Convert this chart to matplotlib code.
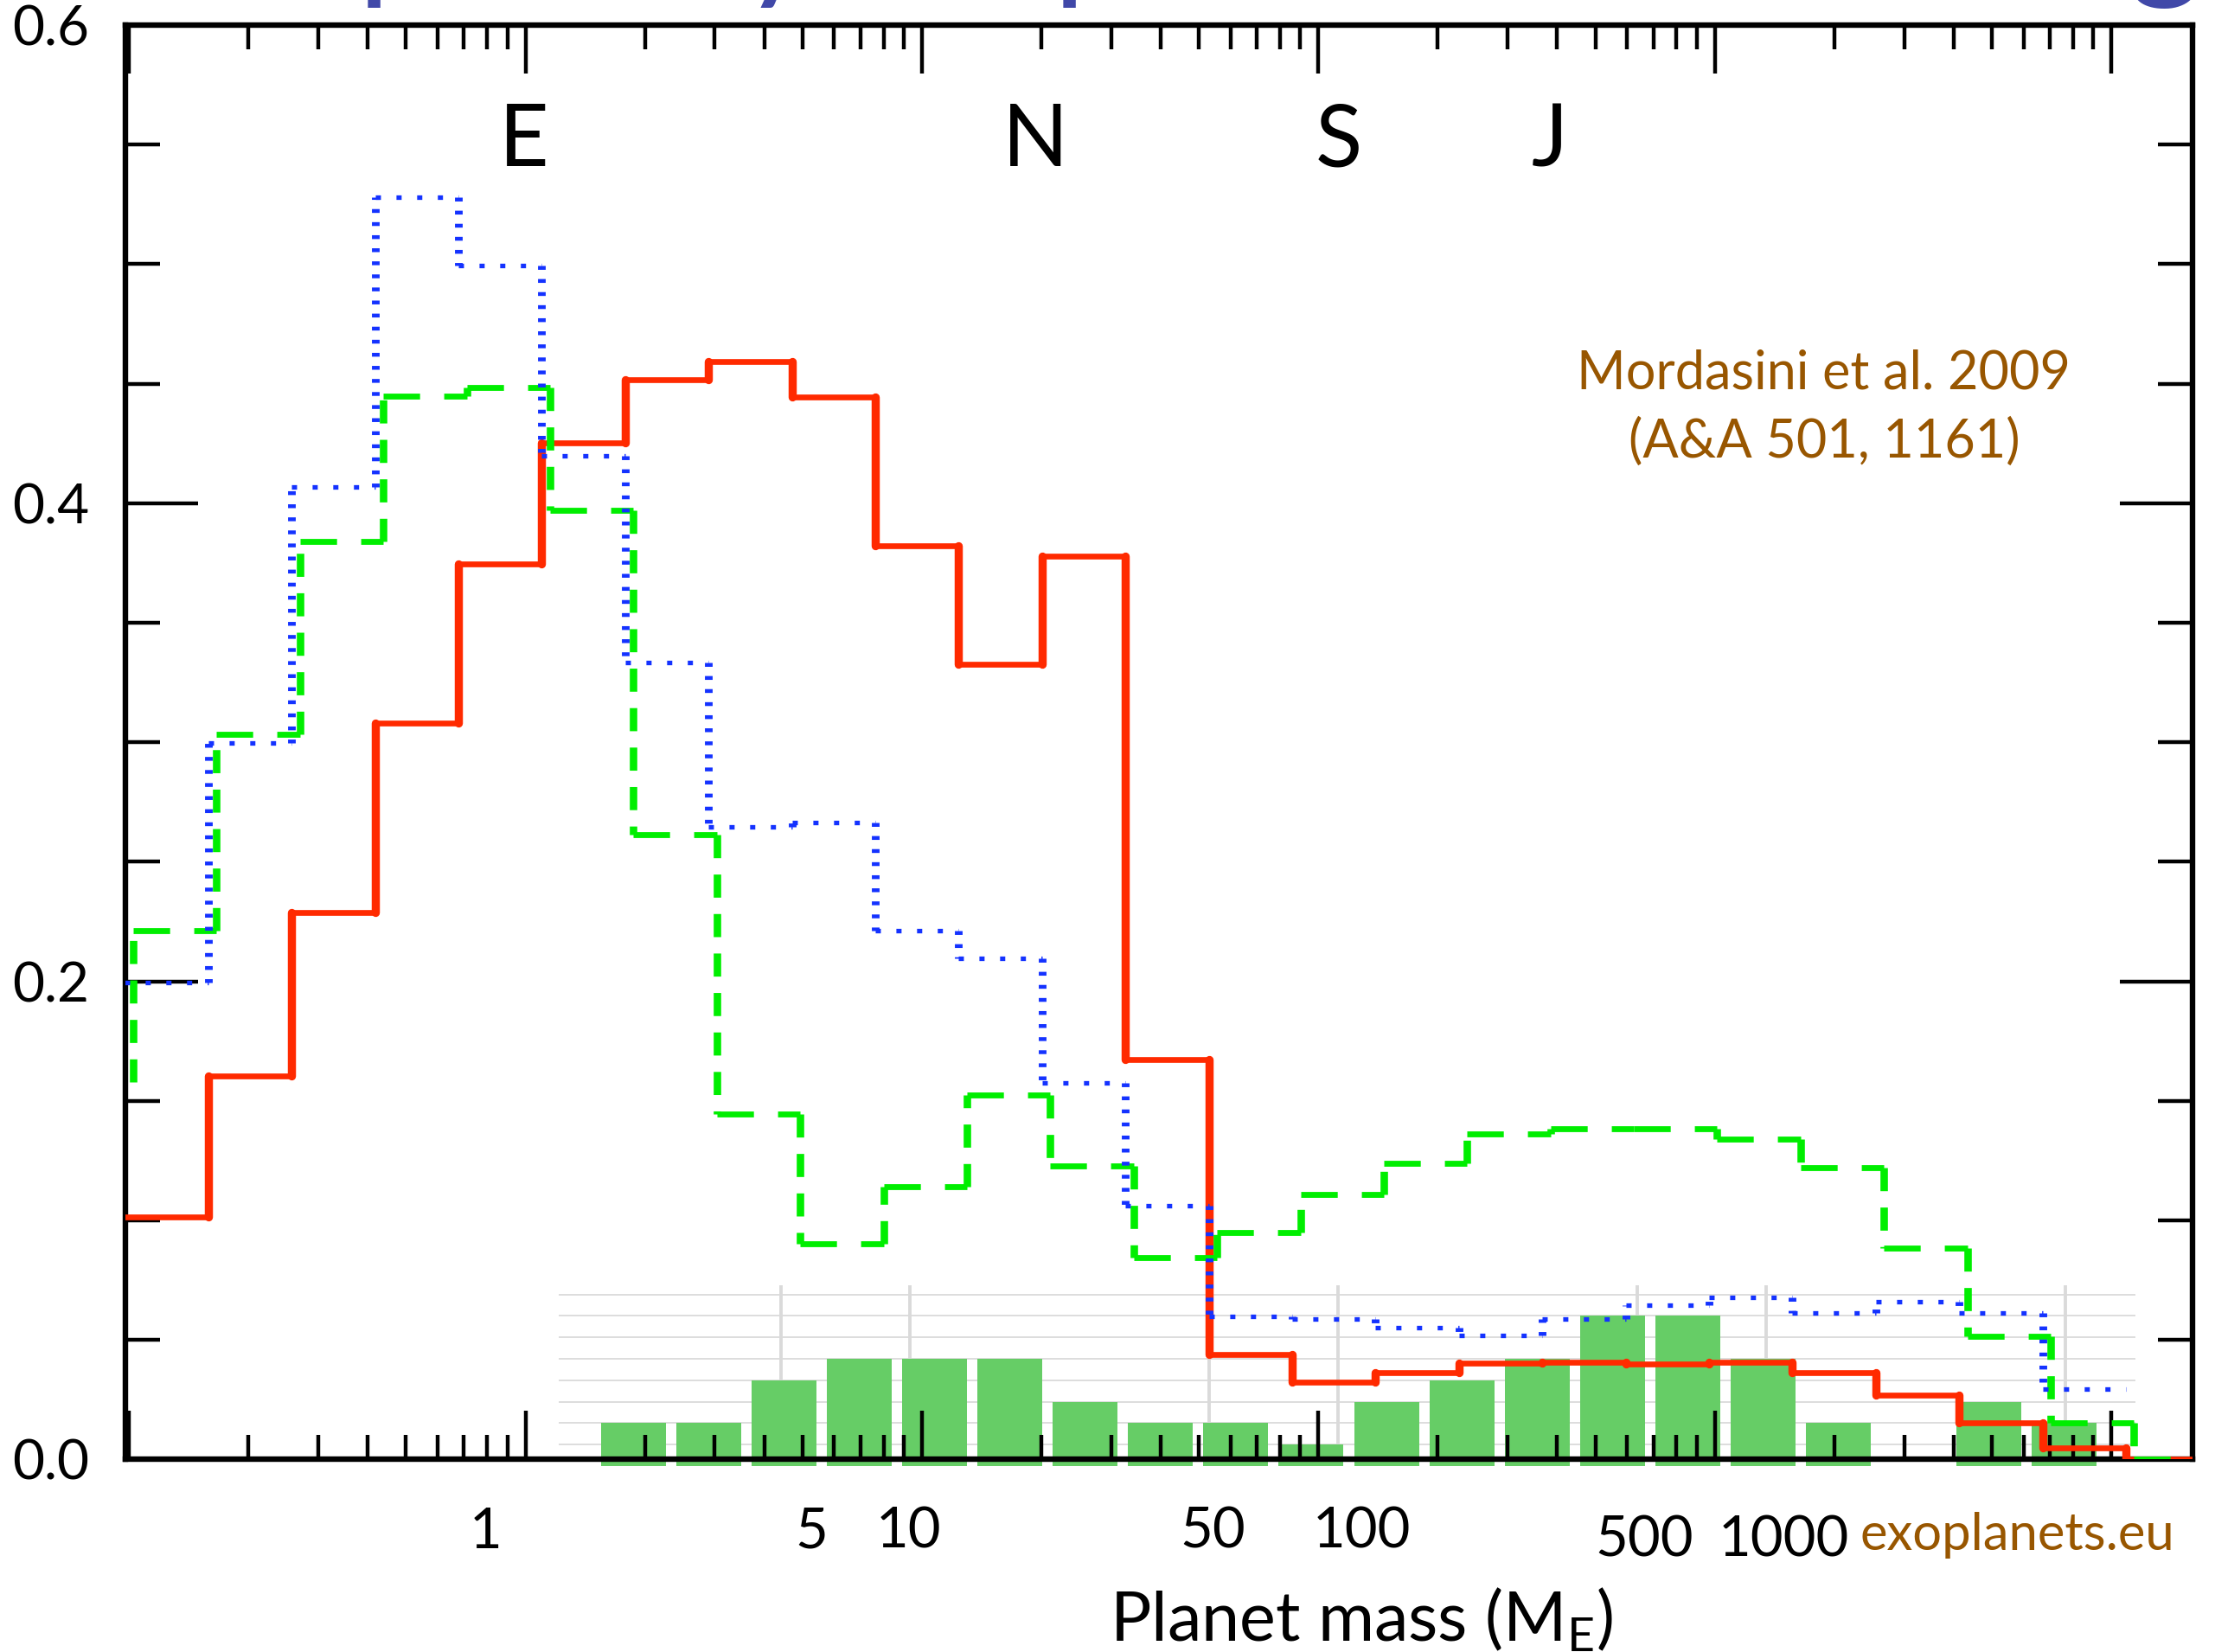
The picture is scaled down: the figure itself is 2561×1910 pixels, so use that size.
import numpy as np
import matplotlib
matplotlib.use("Agg")
import matplotlib.pyplot as plt
import matplotlib.transforms as mtransforms
from matplotlib.ticker import LogLocator, MultipleLocator, FixedLocator, NullFormatter, FormatStrFormatter

plt.rcParams['font.family'] = ['Lato', 'DejaVu Sans']
plt.rcParams['mathtext.fontset'] = 'custom'
plt.rcParams['mathtext.rm'] = 'Lato'
plt.rcParams['mathtext.it'] = 'Lato:italic'
plt.rcParams['mathtext.bf'] = 'Lato:bold'

# ---------------- data ----------------
# model histogram bin edges (planet mass, Earth masses)
bin_edges = [0.0977, 0.1585, 0.2573, 0.4176, 0.6776, 1.0998, 1.784, 2.896, 4.699,
             7.627, 12.38, 20.09, 32.58, 52.88, 85.81, 139.3, 225.9, 366.7, 595.0,
             965.6, 1567, 2543, 4126, 6697, 10864]
tail_edge = 20000  # zero level continues to the right edge

red_vals = [0.1015, 0.1603, 0.2287, 0.3080, 0.3745, 0.4254, 0.4517, 0.4593, 0.4444,
            0.3821, 0.3326, 0.3777, 0.1673, 0.0440, 0.0323, 0.0364, 0.0402, 0.0407,
            0.0400, 0.0405, 0.0365, 0.0271, 0.0155, 0.0050, 0.0]

blue_vals = [0.1994, 0.2997, 0.4067, 0.5280, 0.4994, 0.4197, 0.3334, 0.2645, 0.2665,
             0.2211, 0.2096, 0.1574, 0.1063, 0.0598, 0.0586, 0.0551, 0.0519, 0.0586,
             0.0645, 0.0677, 0.0613, 0.0660, 0.0613, 0.0296]

green_start = 0.158
green_vals = [0.2213, 0.3035, 0.3840, 0.4447, 0.4484, 0.3972, 0.2612, 0.1445, 0.0904,
              0.1140, 0.1525, 0.1227, 0.0844, 0.0951, 0.1107, 0.1239, 0.1362, 0.1385,
              0.1385, 0.1339, 0.1221, 0.0884, 0.0516, 0.0153]
green_shift = 1.049  # green curve drawn slightly offset to the right

# observed exoplanets (exoplanets.eu) histogram
exo_centers = [2.26, 3.39, 5.08, 7.62, 11.4, 17.1, 25.7, 38.5, 57.7, 86.5,
               130, 195, 292, 438, 656, 984, 1476, 2208, 3311, 4966]
exo_counts = [2, 2, 4, 5, 5, 5, 3, 2, 2, 1, 3, 4, 5, 7, 7, 5, 2, 0, 3, 2]
exo_grid_x = [5, 10, 50, 100, 500, 1000, 5000]
exo_grid_y = [1, 2, 3, 4, 5, 6, 7, 8]
exo_labels = ['1', '5', '10', '50', '100', '500', '1000']
exo_label_pos = [1.02, 5.9, 9.93, 51.0, 113.4, 519, 1099]
exo_label_low = [False, False, False, False, False, True, True]

planet_letters = ['E', 'N', 'S', 'J']
planet_letter_x = [0.99, 19.3, 112.7, 383]

# ---------------- figure ----------------
DPI = 200
fig = plt.figure(figsize=(2561 / DPI, 1910 / DPI), dpi=DPI, facecolor='white')

# overlay (exoplanets.eu histogram)
ax_exo = fig.add_axes([0.25209, 0.11257, 0.71199, 0.10942], zorder=0)
ax_exo.set_xscale('log')
ax_exo.set_xlim(10 ** 0.179, 10 ** 3.8626)
ax_exo.set_ylim(0, 8.43)
ax_exo.axis('off')
bar_w = 0.1515
c = np.array(exo_centers)
lefts = c / 10 ** (bar_w / 2)
rights = c * 10 ** (bar_w / 2)
ax_exo.bar(lefts, exo_counts, width=rights - lefts, align='edge',
           color='#66CD66', edgecolor='none', zorder=3)
xl = ax_exo.get_xlim()
ax_exo.hlines(exo_grid_y, xl[0], xl[1], color='#DDDDDD', lw=0.7, zorder=1)
ax_exo.vlines(exo_grid_x, 0, 8.43, color='#DADADA', lw=1.4, zorder=1)
blend = mtransforms.blended_transform_factory(ax_exo.transData, ax_exo.transAxes)
for lab, pos, low in zip(exo_labels, exo_label_pos, exo_label_low):
    ax_exo.text(pos, -0.5024 if low else -0.4545, lab, transform=blend,
                ha='center', va='baseline', fontsize=23.5, color='black', clip_on=False)

# main axes
ax = fig.add_axes([0.05654, 0.11654, 0.93345, 0.86828], zorder=1)
ax.patch.set_visible(False)
ax.set_xscale('log')
ax.set_xlim(0.0979, 16030)
ax.set_ylim(0, 0.6)

edges = np.array(bin_edges)

# red (solid) : outline + thicker risers
red_edges = np.append(edges, tail_edge)
r_vals = np.array(red_vals)
ax.stairs(r_vals, red_edges, baseline=None, color='#FF2A00', lw=2.4,
          joinstyle='round', zorder=3)
ax.vlines(red_edges[1:-1], r_vals[:-1], r_vals[1:], colors='#FF2A00', lw=3.4,
          capstyle='round', zorder=3)

# green (dashed, long horizontal dashes / shorter vertical ones)
g_edges = edges * green_shift
g_vals = np.array(green_vals)
ax.hlines(np.append(g_vals, 0.0), np.append(g_edges[:-1], g_edges[-1]),
          np.append(g_edges[1:], tail_edge),
          colors='#00EE00', lw=2.45, linestyles=[(0, (6.2, 4.1))], zorder=4)
v_low = np.concatenate([[green_start], g_vals])
v_high = np.concatenate([g_vals, [0.0]])
ax.vlines(g_edges, v_low, v_high, colors='#00EE00', lw=3.1,
          linestyles=[(0, (3.1, 2.2))], zorder=4)

# blue (dotted)
b_vals = np.array(blue_vals)
ax.hlines(b_vals, edges[:-1], edges[1:], colors='#1432FF', lw=1.9,
          linestyles=[(0, (1.13, 3.4))], zorder=5)
ax.vlines(edges[1:-1], b_vals[:-1], b_vals[1:], colors='#1432FF', lw=3.2,
          linestyles=[(0, (0.5, 1.2))], zorder=5)

# ticks
ax.xaxis.set_major_locator(LogLocator(base=10, numticks=20))
ax.xaxis.set_minor_locator(LogLocator(base=10, subs=np.arange(2, 10), numticks=20))
ax.xaxis.set_major_formatter(NullFormatter())
ax.xaxis.set_minor_formatter(NullFormatter())
ax.tick_params(axis='x', which='both', direction='in', top=True, bottom=True,
               labelbottom=False, width=1.6)
ax.tick_params(axis='x', which='major', length=20.2)
ax.tick_params(axis='x', which='minor', length=10.1)

ax.yaxis.set_major_locator(FixedLocator([0.0, 0.2, 0.4, 0.6]))
ax.yaxis.set_minor_locator(MultipleLocator(0.05))
ax.yaxis.set_major_formatter(FormatStrFormatter('%.1f'))
ax.tick_params(axis='y', which='both', direction='in', left=True, right=True, width=1.6)
ax.tick_params(axis='y', which='major', length=30.2, labelsize=23, pad=15)
ax.tick_params(axis='y', which='minor', length=14.4)
for sp in ax.spines.values():
    sp.set_linewidth(2.3)

# planet letters
for lab, xv in zip(planet_letters, planet_letter_x):
    ax.text(xv, 0.541, lab, ha='center', va='baseline', fontsize=36, color='black')

brown = '#985600'
fig.text(0.8235, 0.7644, 'Mordasini et al. 2009', ha='center', va='baseline',
         fontsize=22, color=brown)
fig.text(0.8235, 0.7230, '(A&A 501, 1161)', ha='center', va='baseline',
         fontsize=22, color=brown)
fig.text(0.9106, 0.0618, 'exoplanets.eu', ha='center', va='baseline',
         fontsize=21.5, color=brown)
fig.text(0.6148, 0.0068, r'Planet mass (M$_{\mathrm{E}}$)', ha='center',
         va='baseline', fontsize=28.5, color='black')

# slide-title fragments cut by the top edge
title_blue = '#4048A8'
ty = 1.0100
fig.text(0.1617, ty, 'p', ha='left', va='baseline', fontsize=58, color=title_blue)
fig.text(0.3514, ty, 'y', ha='center', va='baseline', fontsize=58, color=title_blue)
fig.text(0.4756, ty, 'p', ha='left', va='baseline', fontsize=58, color=title_blue)
fig.text(0.9777, ty, 'g', ha='center', va='baseline', fontsize=58, color=title_blue)

fig.savefig('out.png', dpi=DPI, facecolor='white')
